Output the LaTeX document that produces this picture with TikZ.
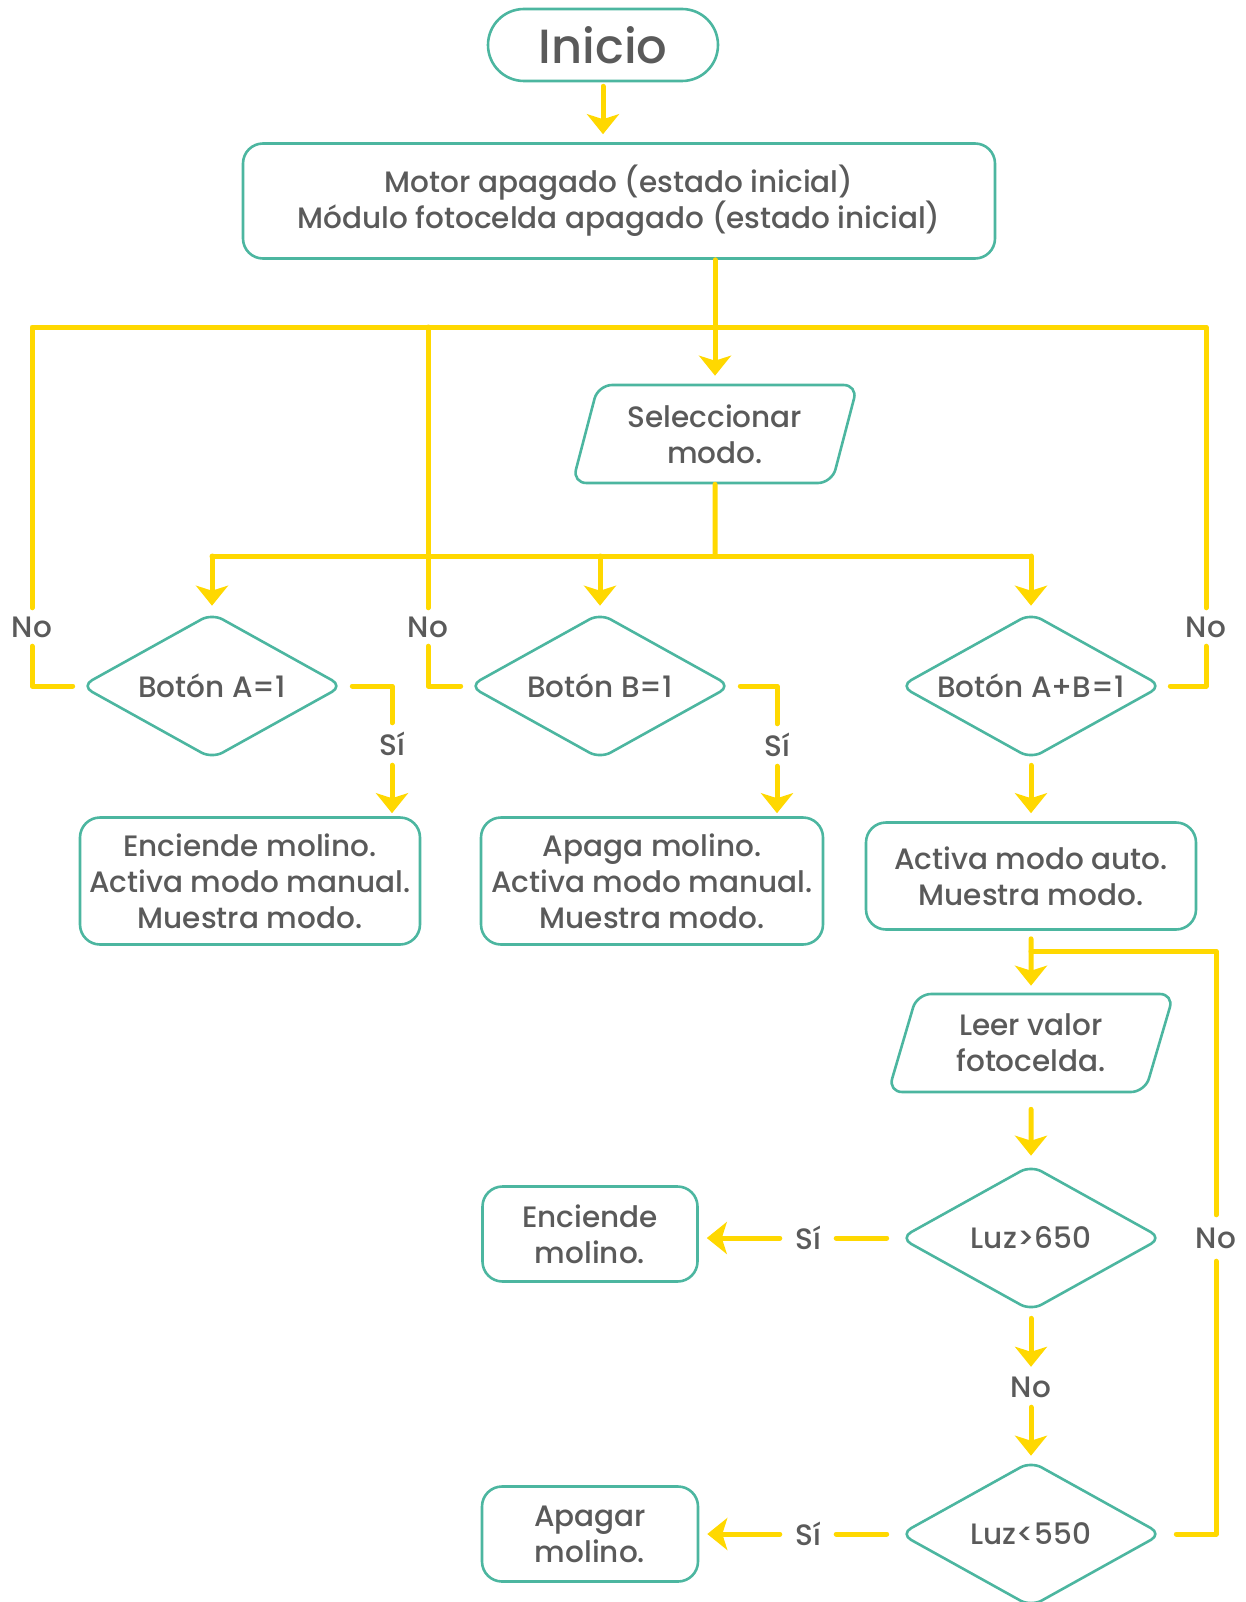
\documentclass[tikz,border=0pt]{standalone}
\usepackage{fontspec}
\setmainfont{Poppins}[UprightFont={* Medium}]
\usetikzlibrary{shapes.geometric,arrows.meta,calc}
\definecolor{tl}{HTML}{4CB6A0}
\definecolor{yl}{HTML}{FFD800}
\definecolor{tx}{HTML}{5A5A5A}
\newcommand{\zb}[1]{\makebox[0pt]{#1}}
\tikzset{
 base/.style={draw=tl, line width=2.6pt, text=tx, align=center, font=\fontsize{29.5}{36}\selectfont, inner sep=0pt},
 box/.style={base, rectangle, rounded corners=20pt},
 dec/.style={base, diamond, minimum width=262pt, minimum height=146pt, rounded corners=12pt},
 io/.style={base, trapezium, trapezium left angle=72, trapezium right angle=108, trapezium stretches=true, minimum width=286pt, minimum height=98pt, rounded corners=14pt},
 lbl/.style={text=tx, font=\fontsize{29.5}{32}\selectfont, inner sep=0pt},
 conn/.style={draw=yl, line width=5pt, line join=round, line cap=round},
 arr/.style={conn, -{Stealth[length=20pt,width=32pt,inset=5pt]}},
}
\begin{document}
\begin{tikzpicture}[x=1pt,y=-1pt]
\useasboundingbox (0,0) rectangle (1246,1602);
% nodes
\node[box, rounded corners=36pt, minimum width=230pt, minimum height=72pt, font=\fontsize{48}{52}\selectfont] (ini) at (603,45) {Inicio};
\node[box, minimum width=752pt, minimum height=115pt] (mot) at (619,201) {Motor apagado (estado inicial)\\Módulo fotocelda apagado (estado inicial)};
\node[io] (sel) at (715,434) {Seleccionar\\modo.};
\node[dec] (A) at (212,686) {\zb{Botón A=1}};
\node[dec] (B) at (600,686) {\zb{Botón B=1}};
\node[dec] (C) at (1031,686) {\zb{Botón A+B=1}};
\node[box, minimum width=340pt, minimum height=127pt] (bA) at (250,881) {Enciende molino.\\Activa modo manual.\\Muestra modo.};
\node[box, minimum width=342pt, minimum height=127pt] (bB) at (652,881) {Apaga molino.\\Activa modo manual.\\Muestra modo.};
\node[box, minimum width=330pt, minimum height=107pt] (bC) at (1031,876) {Activa modo auto.\\Muestra modo.};
\node[io] (leer) at (1031,1043) {Leer valor\\fotocelda.};
\node[dec] (L1) at (1031,1238) {\zb{Luz>650}};
\node[dec] (L2) at (1031,1534) {\zb{Luz<550}};
\node[box, minimum width=215pt, minimum height=95pt] (bE) at (590,1234) {Enciende\\molino.};
\node[box, minimum width=216pt, minimum height=95pt] (bP) at (590,1534) {Apagar\\molino.};
% labels
\node[lbl, minimum height=38pt] (noA) at (32,627) {No};
\node[lbl, minimum height=38pt] (noB) at (428,627) {No};
\node[lbl, minimum height=38pt] (noC) at (1206,627) {No};
\node[lbl, minimum height=42pt] (siA) at (392,744) {Sí};
\node[lbl, minimum height=42pt] (siB) at (777,745) {Sí};
\node[lbl, minimum width=56pt] (s1) at (808,1238) {Sí};
\node[lbl, minimum width=56pt] (s2) at (808,1534) {Sí};
\node[lbl, minimum height=40pt] (n1) at (1031,1387) {No};
\node[lbl, minimum height=46pt] (n2) at (1216,1238) {No};
\coordinate (tb) at (714,327);
\coordinate (mb) at (715,556);
\coordinate (lp) at (1031,951);
% connectors
\draw[arr, shorten <=4pt, shorten >=8pt] (ini.south) -- (ini.south |- mot.north);
\draw[arr, shorten >=8pt] (mot.south -| sel.north) -- (sel.north);
\draw[conn] (noA.north) |- (tb) -| (noC.north);
\draw[conn] (noB.north) -- (noB.north |- tb);
\draw[conn, shorten >=7pt] (noA.south) |- (A.west);
\draw[conn, shorten >=7pt] (noB.south) |- (B.west);
\draw[conn, shorten >=7pt] (noC.south) |- (C.east);
\draw[conn] (sel.south) -- (mb);
\draw[conn] (A.north |- mb) -- (C.north |- mb);
\draw[arr, shorten >=6pt] (A.north |- mb) -- (A.north);
\draw[arr, shorten >=6pt] (B.north |- mb) -- (B.north);
\draw[arr, shorten >=6pt] (C.north |- mb) -- (C.north);
\draw[conn, shorten <=8pt] (A.east) -| (siA.north);
\draw[arr, shorten >=3pt] (siA.south) -- (siA.south |- bA.north);
\draw[conn, shorten <=8pt] (B.east) -| (siB.north);
\draw[arr, shorten >=3pt] (siB.south) -- (siB.south |- bB.north);
\draw[arr, shorten <=5pt, shorten >=8pt] (C.south) -- (bC.north);
\draw[arr, shorten <=8pt, shorten >=7pt] (bC.south) -- (leer.north);
\draw[conn] (lp) -- (lp -| n2) -- (n2.north);
\draw[conn, shorten >=13pt] (n2.south) |- (L2.east);
\draw[arr, shorten <=16pt, shorten >=8pt] (leer.south) -- (L1.north);
\draw[arr, shorten <=6pt] (L1.south) -- (n1.north);
\draw[arr, shorten >=4pt] (n1.south) -- (L2.north);
\draw[conn, shorten <=12pt] (L1.west) -- (s1.east);
\draw[arr, shorten >=8pt] (s1.west) -- (s1.west -| bE.east);
\draw[conn, shorten <=12pt] (L2.west) -- (s2.east);
\draw[arr, shorten >=8pt] (s2.west) -- (s2.west -| bP.east);
\end{tikzpicture}
\end{document}
